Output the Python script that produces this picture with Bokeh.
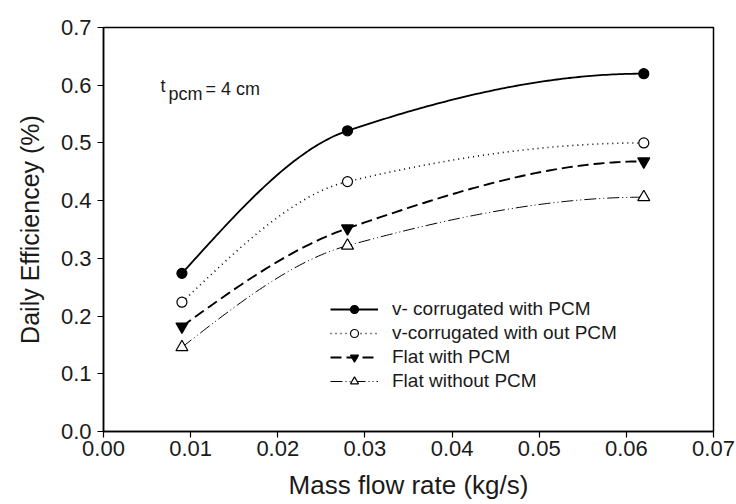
import numpy as np
from bokeh.plotting import figure
from bokeh.models import Range1d, FixedTicker, NumeralTickFormatter, Legend, LegendItem
from bokeh.core.properties import value
from bokeh.embed import file_html
from bokeh.resources import INLINE

# ---- data ----
flow_rate = [0.009, 0.028, 0.062]
v_corr_pcm = [0.274, 0.521, 0.620]
v_corr_no_pcm = [0.224, 0.433, 0.500]
flat_pcm = [0.182, 0.352, 0.468]
flat_no_pcm = [0.146, 0.322, 0.406]
x_ticks = [0.00, 0.01, 0.02, 0.03, 0.04, 0.05, 0.06, 0.07]
y_ticks = [0.0, 0.1, 0.2, 0.3, 0.4, 0.5, 0.6, 0.7]
labels = ["v- corrugated with PCM", "v-corrugated with out PCM",
          "Flat with PCM", "Flat without PCM"]

FONT = "Liberation Sans"
TXT = "#1a1a1a"


def pchip(xs, ys, n=150):
    """Monotone cubic (Fritsch-Carlson) curve through the points, sampled for drawing."""
    x = np.asarray(xs, float)
    y = np.asarray(ys, float)
    h = np.diff(x)
    d = np.diff(y) / h
    k = len(x)
    m = np.zeros(k)
    for i in range(1, k - 1):
        if d[i - 1] * d[i] > 0:
            w1 = 2 * h[i] + h[i - 1]
            w2 = h[i] + 2 * h[i - 1]
            m[i] = (w1 + w2) / (w1 / d[i - 1] + w2 / d[i])
    def end(h0, h1, d0, d1):
        s = ((2 * h0 + h1) * d0 - h0 * d1) / (h0 + h1)
        if np.sign(s) != np.sign(d0):
            s = 0.0
        elif np.sign(d0) != np.sign(d1) and abs(s) > abs(3 * d0):
            s = 3 * d0
        return s
    m[0] = end(h[0], h[1], d[0], d[1])
    m[-1] = end(h[-1], h[-2], d[-1], d[-2])
    xx = np.linspace(x[0], x[-1], n)
    yy = np.empty_like(xx)
    for j, xv in enumerate(xx):
        i = min(np.searchsorted(x, xv, side="right") - 1, k - 2)
        t = (xv - x[i]) / h[i]
        h00 = 2 * t**3 - 3 * t**2 + 1
        h10 = t**3 - 2 * t**2 + t
        h01 = -2 * t**3 + 3 * t**2
        h11 = t**3 - t**2
        yy[j] = h00 * y[i] + h10 * h[i] * m[i] + h01 * y[i + 1] + h11 * h[i] * m[i + 1]
    return xx, yy


p = figure(width=736, height=504, output_backend="svg", toolbar_location=None,
           x_range=Range1d(0, 0.07), y_range=Range1d(0, 0.7),
           min_border_left=103, min_border_right=23,
           min_border_top=27, min_border_bottom=73)
p.xgrid.visible = False
p.ygrid.visible = False
p.outline_line_color = "black"
p.outline_line_width = 1.5
p.background_fill_color = "white"
p.border_fill_color = "white"

for ax in (p.xaxis[0], p.yaxis[0]):
    ax.axis_line_width = 1.5
    ax.axis_line_color = "black"
    ax.major_tick_out = 6
    ax.major_tick_in = 0
    ax.major_tick_line_width = 1.2
    ax.minor_tick_out = 0
    ax.minor_tick_in = 0
    ax.major_label_text_font = FONT
    ax.major_label_text_font_size = "22px"
    ax.major_label_text_color = TXT
    ax.axis_label_text_font = FONT
    ax.axis_label_text_font_style = "normal"
    ax.axis_label_text_color = TXT

p.xaxis.axis_label_text_font_size = "26px"
p.yaxis.axis_label_text_font_size = "25px"
p.xaxis.ticker = FixedTicker(ticks=x_ticks)
p.yaxis.ticker = FixedTicker(ticks=y_ticks)
p.xaxis.formatter = NumeralTickFormatter(format="0.00")
p.yaxis.formatter = NumeralTickFormatter(format="0.0")
p.xaxis.axis_label = "Mass flow rate (kg/s)"
p.yaxis.axis_label = "Daily Efficiencey (%)"
p.xaxis.axis_label_standoff = 11
p.yaxis.axis_label_standoff = 14
p.xaxis.major_label_standoff = 3
p.yaxis.major_label_standoff = 6

series = [
    (v_corr_pcm, dict(line_dash="solid", line_width=1.8), "circle", "black", 10),
    (v_corr_no_pcm, dict(line_dash="1 4", line_width=1.6), "circle", "white", 10),
    (flat_pcm, dict(line_dash="11 5", line_width=1.9), "inverted_triangle", "black", 12),
    (flat_no_pcm, dict(line_dash="12 3 1 3 1 3", line_width=1.0), "triangle", "white", 12),
]

items = []
for ys, lstyle, marker, fill, size in series:
    xx, yy = pchip(flow_rate, ys)
    r_line = p.line(xx, yy, line_color="black", **lstyle)
    r_mark = p.scatter(flow_rate, ys, marker=marker, size=size, line_color="black",
                       fill_color=fill, line_width=1.2)
    items.append([r_line, r_mark])

legend = Legend(items=[LegendItem(label=lab, renderers=rs) for lab, rs in zip(labels, items)],
                location=(227, 39), border_line_color=None, background_fill_alpha=0,
                label_text_font=FONT, label_text_font_size="19px",
                label_text_color=TXT, label_height=20,
                glyph_width=48, glyph_height=20, spacing=2, label_standoff=14,
                padding=0, margin=0)
p.add_layout(legend, "center")

# annotation t_pcm = 4 cm
p.text(x=[0.00654], y=[0.598], text=["t"], text_font=value(FONT), text_font_size="18px",
       text_baseline="alphabetic", text_color=TXT)
p.text(x=[0.00746], y=[0.584], text=["pcm"], text_font=value(FONT), text_font_size="18px",
       text_baseline="alphabetic", text_color=TXT)
p.text(x=[0.01170], y=[0.594], text=["= 4 cm"], text_font=value(FONT), text_font_size="18px",
       text_baseline="alphabetic", text_color=TXT)

open("out.html", "w").write(file_html(p, INLINE))
